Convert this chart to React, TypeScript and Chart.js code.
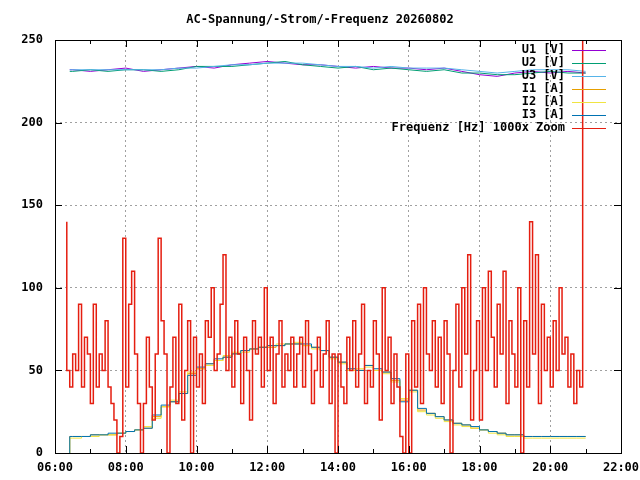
import React, { useEffect, useRef } from "react";
import { Chart, registerables } from "chart.js";
Chart.register(...registerables);

const TITLE = "AC-Spannung/-Strom/-Frequenz 20260802";
const LABELS = ["U1 [V]", "U2 [V]", "U3 [V]", "I1 [A]", "I2 [A]", "I3 [A]", "Frequenz [Hz] 1000x Zoom"];
const COLORS = ["#9400d3", "#009e73", "#56b4e9", "#e69f00", "#f0e442", "#0072b2", "#e51e10"];

// voltages: every 30 min from 06:30 (minutes), first point 06:20
const U_START = 380; const U_STEP = 30;
const U1 = [232, 231, 232, 233, 231, 232, 233, 234, 233, 235, 236, 237, 236, 235, 235, 234, 233, 234, 233, 233, 232, 233, 231, 229, 228, 230, 231, 230, 231, 230];
const U2 = [231, 232, 231, 232, 232, 231, 232, 234, 234, 234, 235, 236, 237, 235, 234, 233, 234, 232, 233, 232, 231, 232, 230, 230, 229, 229, 230, 231, 230, 230];
const U3 = [232, 232, 232, 232, 232, 232, 233, 233, 234, 235, 235, 236, 236, 236, 235, 234, 234, 233, 234, 233, 233, 233, 232, 231, 230, 231, 232, 232, 232, 231];

// currents: first point 06:25, then every 15 min from 06:30
const I_START = 390; const I_STEP = 15;
const I1 = [10, 10, 10, 11, 11, 11, 12, 13, 14, 15, 22, 28, 31, 36, 48, 51, 54, 56, 58, 60, 62, 63, 64, 64, 65, 66, 66, 65, 64, 62, 58, 55, 50, 50, 53, 50, 49, 44, 32, 38, 26, 24, 22, 20, 18, 17, 15, 14, 13, 12, 11, 11, 10, 10, 10, 10, 10, 10, 10];
const I2 = [9, 9, 10, 10, 11, 11, 12, 13, 14, 16, 21, 28, 32, 37, 49, 51, 53, 56, 59, 61, 61, 63, 64, 65, 66, 66, 67, 65, 63, 62, 57, 54, 50, 51, 52, 50, 48, 43, 33, 37, 25, 23, 21, 19, 17, 16, 15, 14, 12, 11, 10, 10, 9, 9, 9, 9, 9, 9, 9];
const I3 = [10, 10, 10, 11, 11, 12, 12, 13, 14, 15, 23, 29, 31, 36, 47, 52, 54, 57, 58, 60, 62, 63, 64, 65, 65, 66, 66, 66, 64, 62, 58, 55, 51, 50, 53, 51, 49, 45, 31, 38, 27, 24, 22, 20, 18, 17, 16, 14, 13, 12, 11, 11, 10, 10, 10, 10, 10, 10, 10];

// frequency (1000x zoom): every 5 min from 06:20, last at 21:00
const F_START = 380; const F_STEP = 5;
const F = [
  140, 50, 40, 60, 50, 90, 40, 70,
  60, 30, 90, 40, 60, 50, 80, 40, 30, 20, 0, 10,
  130, 40, 90, 110, 60, 30, 0, 30, 70, 40, 20, 60,
  130, 80, 60, 0, 40, 70, 30, 90, 20, 50, 80, 0,
  70, 40, 60, 30, 80, 70, 100, 50, 60, 90, 120, 50,
  70, 40, 80, 60, 30, 70, 50, 20, 80, 60, 70, 40,
  100, 50, 70, 30, 60, 80, 40, 60, 50, 70, 40, 60,
  70, 40, 80, 60, 30, 50, 70, 40, 60, 80, 30, 60,
  0, 60, 40, 30, 70, 50, 80, 40, 60, 90, 30, 50,
  40, 80, 60, 20, 100, 50, 70, 30, 60, 40, 10, 0,
  60, 0, 80, 40, 90, 30, 100, 60, 50, 80, 40, 70,
  30, 80, 60, 0, 50, 90, 40, 100, 60, 120, 20, 50,
  80, 20, 100, 50, 110, 70, 40, 90, 60, 110, 30, 80,
  60, 40, 100, 0, 80, 40, 140, 60, 120, 30, 90, 50,
  70, 40, 80, 50, 100, 60, 70, 40, 60, 30, 50, 40,
  300,
];

const FONT = "'DejaVu Sans Mono', monospace";

function series(vals: number[], start: number, step: number, first?: number) {
  const pts = vals.map((v, i) => ({ x: start + i * step, y: v }));
  if (first !== undefined) pts.unshift({ x: start - 5, y: first });
  return pts;
}

export default function App() {
  const ref = useRef<HTMLCanvasElement>(null);
  useEffect(() => {
    const data = [
      series(U1, U_START + 10, U_STEP, 232),
      series(U2, U_START + 10, U_STEP, 231),
      series(U3, U_START + 10, U_STEP, 232),
      series(I1, I_START, I_STEP, 0),
      series(I2, I_START, I_STEP, 0),
      series(I3, I_START, I_STEP, 0),
      series(F, F_START, F_STEP),
    ];
    const order = [6, 5, 4, 3, 2, 1, 0];
    const deco = {
      id: "deco",
      afterDraw(c: any) {
        const ctx = c.ctx; const a = c.chartArea;
        ctx.save();
        ctx.strokeStyle = "#000"; ctx.lineWidth = 1;
        ctx.strokeRect(a.left + 0.5, a.top + 0.5, a.right - a.left, a.bottom - a.top);
        ctx.beginPath();
        const xs = c.scales.x, ys = c.scales.y;
        for (let m = 360; m <= 1320; m += 60) {
          const px = Math.round(xs.getPixelForValue(m)) + 0.5;
          const len = m % 120 === 0 ? 7 : 4;
          ctx.moveTo(px, a.bottom); ctx.lineTo(px, a.bottom - len);
          ctx.moveTo(px, a.top); ctx.lineTo(px, a.top + len);
        }
        for (let v = 0; v <= 250; v += 50) {
          const py = Math.round(ys.getPixelForValue(v)) + 0.5;
          ctx.moveTo(a.left, py); ctx.lineTo(a.left + 7, py);
          ctx.moveTo(a.right, py); ctx.lineTo(a.right - 7, py);
        }
        ctx.stroke();
        ctx.fillStyle = "#000";
        ctx.font = "bold 12px " + FONT;
        ctx.textAlign = "center"; ctx.textBaseline = "middle";
        ctx.fillText(TITLE, 320, 20);
        ctx.textAlign = "right";
        c.data.datasets.forEach((d: any, i: number) => {
          const y = 50 + i * 13;
          ctx.fillStyle = "#000";
          ctx.fillText(d.label, 565, y);
          ctx.strokeStyle = d.borderColor;
          ctx.beginPath(); ctx.moveTo(572, y + 0.5); ctx.lineTo(606, y + 0.5); ctx.stroke();
        });
        ctx.restore();
      },
    };
    const chart = new Chart(ref.current!, {
      type: "line",
      data: {
        datasets: data.map((d, i) => ({
          label: LABELS[i], data: d, borderColor: COLORS[i], backgroundColor: COLORS[i],
          borderWidth: i === 6 ? 1.5 : 1, pointRadius: 0, stepped: i >= 3 ? "after" : false, order: order[i],
        })) as any,
      },
      options: {
        animation: false, responsive: false,
        layout: { padding: { top: 40, right: 0, left: 0, bottom: 0 } },
        plugins: { legend: { display: false }, tooltip: { enabled: false } },
        scales: {
          x: {
            type: "linear", min: 360, max: 1320,
            afterFit: (s: any) => { s.height = 27; s.paddingRight = 19; s.paddingLeft = 0; },
            grid: { color: "#a0a0a0", drawTicks: false } as any,
            border: { display: false, dash: [2, 3] } as any,
            ticks: {
              stepSize: 120, color: "#000", font: { family: FONT, size: 12, weight: "bold" }, padding: 8,
              callback: (v: any) => String(Math.floor(v / 60)).padStart(2, "0") + ":00",
            },
          },
          y: {
            min: 0, max: 250,
            afterFit: (s: any) => { s.width = 55; },
            grid: { color: "#a0a0a0", drawTicks: false } as any,
            border: { display: false, dash: [2, 3] } as any,
            ticks: { stepSize: 50, color: "#000", font: { family: FONT, size: 12, weight: "bold" }, padding: 12 },
          },
        },
      },
      plugins: [deco],
    } as any);
    return () => chart.destroy();
  }, []);
  return <canvas ref={ref} width={640} height={480} style={{ position: "absolute", left: 0, top: 0 }} />;
}
